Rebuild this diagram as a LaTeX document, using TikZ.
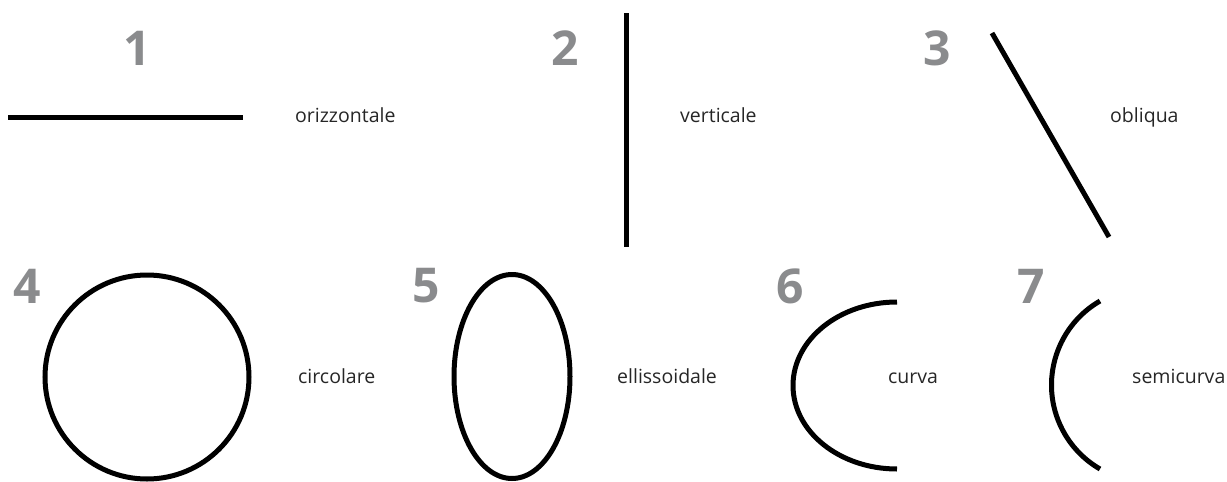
\documentclass[tikz,border=0pt]{standalone}
\usepackage{fontspec}
\setmainfont{Open Sans}
\usepackage{tikz}
\usetikzlibrary{positioning}
\definecolor{numgray}{HTML}{8A8B8D}

\begin{document}
\begin{tikzpicture}[
    x=1pt, y=-1pt,
    every node/.style={inner sep=0pt},
    num/.style   ={font=\fontsize{48}{50}\selectfont\bfseries, text=numgray},
    lbl/.style   ={font=\fontsize{19.5}{22}\selectfont, text=black!85, anchor=base west},
    stroke/.style={draw=black, line width=5pt},
  ]
  \useasboundingbox (0,0) rectangle (1227,482);

  %% --- row y-positions ---------------------------------------------------
  \def\yNumA{48}    % numbers, top row
  \def\yLblA{122}   % labels (baseline), top row
  \def\yNumB{286}   % numbers, bottom row
  \def\yLblB{383}   % labels (baseline), bottom row

  %% --- top row: straight lines --------------------------------------------
  \node[num] (n1) at (137,\yNumA) {1};
  \coordinate (h1) at (8,117);
  \coordinate (h2) at (243,117);
  \draw[stroke] (h1) -- (h2);
  \node[lbl] (l1) at (295,\yLblA) {orizzontale};

  \node[num] (n2) at (565,\yNumA) {2};
  \coordinate (v1) at (626,13);
  \coordinate (v2) at (626,247);
  \draw[stroke] (v1) -- (v2);
  \node[lbl] (l2) at (680,\yLblA) {verticale};

  \node[num] (n3) at (937,\yNumA) {3};
  \coordinate (o1) at (992,33);
  \coordinate (o2) at (1109,237);
  \draw[stroke] (o1) -- (o2);
  \node[lbl] (l3) at (1110,\yLblA) {obliqua};

  %% --- bottom row: curves --------------------------------------------------
  \node[num] (n4) at (27,\yNumB) {4};
  \coordinate (c4) at (147,377);
  \draw[stroke] (c4) circle[radius=102];
  \node[lbl] (l4) at (298,\yLblB) {circolare};

  \node[num] (n5) at (426,\yNumB) {5};
  \coordinate (c5) at (512,376.5);
  \draw[stroke] (c5) ellipse[x radius=58, y radius=102];
  \node[lbl] (l5) at (617,\yLblB) {ellissoidale};

  \node[num] (n6) at (790,\yNumB) {6};
  \coordinate (c6) at (897,302);
  \draw[stroke] (c6) arc[start angle=-90, end angle=-270, x radius=104, y radius=83.5];
  \node[lbl] (l6) at (888,\yLblB) {curva};

  \node[num] (n7) at (1031,\yNumB) {7};
  \coordinate (c7) at (1100,301);
  \draw[stroke] (c7) arc[start angle=-120, end angle=-240, radius=97];
  \node[lbl] (l7) at (1132,\yLblB) {semicurva};

\end{tikzpicture}
\end{document}
